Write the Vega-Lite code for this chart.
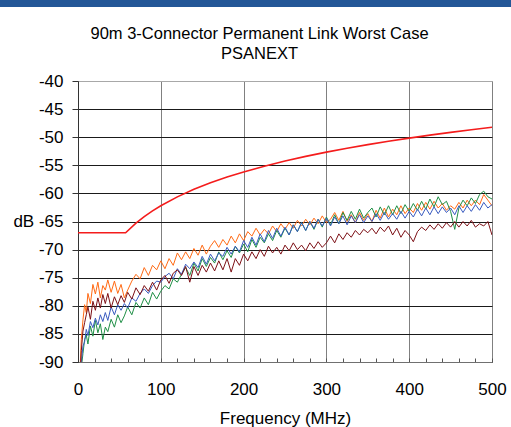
{
  "$schema": "https://vega.github.io/schema/vega-lite/v6.json",
  "padding": 0,
  "background": "white",
  "config": {"font": "Liberation Sans", "view": {"stroke": null}},
  "spacing": 18,
  "vconcat": [
    {"width": 511, "height": 7, "view": {"fill": "#235797", "stroke": null}, "data": {"values": []}, "mark": "point"},
    {
      "spacing": 11,
      "hconcat": [
        {"width": 1, "height": 1, "data": {"values": []}, "mark": "point"},
        {
          "width": 414,
          "height": 281,
          "view": {"stroke": "#a0a0a0"},
          "title": {"text": ["90m 3-Connector Permanent Link Worst Case", "PSANEXT"], "fontSize": 16.5, "fontWeight": "normal", "color": "black", "frame": "bounds", "anchor": "middle", "lineHeight": 20, "offset": 10},
          "layer": [
            {
              "data": {"values": [
                {"f":2,"O":-93,"G":-96,"B":-95,"M":-94},
                {"f":4,"O":-86,"G":-91,"B":-90,"M":-88},
                {"f":6,"O":-82.5,"G":-88.5,"B":-87.2,"M":-84.5},
                {"f":8,"O":-79.8,"G":-86,"B":-86.4,"M":-83},
                {"f":10,"O":-81.2,"G":-85.2,"B":-84.2,"M":-81.6},
                {"f":12,"O":-77.8,"G":-86.8,"B":-85.3,"M":-80.2},
                {"f":15,"O":-79.6,"G":-83.6,"B":-82.8,"M":-82.4},
                {"f":18,"O":-76.2,"G":-85.4,"B":-83.9,"M":-79.2},
                {"f":21,"O":-77.9,"G":-82.6,"B":-82.2,"M":-80.8},
                {"f":24,"O":-75.8,"G":-84.8,"B":-83.4,"M":-78.6},
                {"f":27,"O":-78.6,"G":-83.2,"B":-81.6,"M":-80.4},
                {"f":30,"O":-76.4,"G":-86,"B":-82.8,"M":-78},
                {"f":33,"O":-77.2,"G":-83.8,"B":-81.2,"M":-79.6},
                {"f":36,"O":-75.4,"G":-84.6,"B":-82.6,"M":-77.8},
                {"f":40,"O":-77.6,"G":-82.4,"B":-80.2,"M":-80.4},
                {"f":44,"O":-75.6,"G":-83.8,"B":-81.6,"M":-78.4},
                {"f":48,"O":-77.8,"G":-81.6,"B":-79.8,"M":-79.8},
                {"f":52,"O":-76.2,"G":-83,"B":-80.8,"M":-78.2},
                {"f":56,"O":-78.6,"G":-81.8,"B":-79.6,"M":-79.4},
                {"f":60,"O":-77.2,"G":-80.2,"B":-80.4,"M":-77.6},
                {"f":65,"O":-75.6,"G":-81.6,"B":-78.6,"M":-78.8},
                {"f":70,"O":-74.4,"G":-79.4,"B":-79.2,"M":-76.8},
                {"f":75,"O":-75.2,"G":-80.4,"B":-77.8,"M":-78},
                {"f":80,"O":-73.2,"G":-78.6,"B":-77,"M":-76.4},
                {"f":85,"O":-74.6,"G":-79.8,"B":-77.8,"M":-77.4},
                {"f":90,"O":-72.8,"G":-77.6,"B":-76.4,"M":-75.8},
                {"f":95,"O":-73.6,"G":-78.8,"B":-75.6,"M":-77.2},
                {"f":100,"O":-72,"G":-77.4,"B":-75.8,"M":-75.4},
                {"f":105,"O":-73.4,"G":-76.4,"B":-74.8,"M":-74.6},
                {"f":110,"O":-71.6,"G":-77,"B":-74.2,"M":-76},
                {"f":115,"O":-72.8,"G":-75.2,"B":-75.2,"M":-74.2},
                {"f":120,"O":-70.6,"G":-75.8,"B":-73.4,"M":-73.6},
                {"f":125,"O":-71.8,"G":-74.4,"B":-74.4,"M":-74.6},
                {"f":130,"O":-70.4,"G":-73.2,"B":-72.6,"M":-73},
                {"f":135,"O":-71.6,"G":-74.6,"B":-73.4,"M":-75.8},
                {"f":140,"O":-69.8,"G":-72.4,"B":-72.2,"M":-73},
                {"f":145,"O":-71,"G":-73.8,"B":-73.2,"M":-74.6},
                {"f":150,"O":-69.2,"G":-71.6,"B":-71.2,"M":-72.8},
                {"f":155,"O":-70.8,"G":-73,"B":-72.6,"M":-74},
                {"f":160,"O":-69.4,"G":-71.4,"B":-70.8,"M":-72.4},
                {"f":165,"O":-68.4,"G":-72.4,"B":-72,"M":-73.8},
                {"f":170,"O":-69.6,"G":-70.4,"B":-70.6,"M":-72},
                {"f":175,"O":-68.2,"G":-71.8,"B":-71.2,"M":-73.6},
                {"f":180,"O":-69.2,"G":-70.2,"B":-69.6,"M":-71.6},
                {"f":185,"O":-67.6,"G":-71.4,"B":-70.8,"M":-74},
                {"f":190,"O":-68.8,"G":-69.4,"B":-69.4,"M":-71.6},
                {"f":195,"O":-67.2,"G":-70.6,"B":-70.4,"M":-72.8},
                {"f":200,"O":-68.4,"G":-69,"B":-68.4,"M":-70.8},
                {"f":205,"O":-66.8,"G":-70.4,"B":-69.6,"M":-72},
                {"f":210,"O":-67.6,"G":-68.2,"B":-67.8,"M":-70.4},
                {"f":215,"O":-66.2,"G":-69.6,"B":-69.2,"M":-71.6},
                {"f":220,"O":-67.4,"G":-67.8,"B":-67.2,"M":-70},
                {"f":225,"O":-66.4,"G":-68.8,"B":-68.6,"M":-71.2},
                {"f":230,"O":-67.2,"G":-67.2,"B":-66.6,"M":-69.4},
                {"f":235,"O":-65.8,"G":-68.4,"B":-68,"M":-70.6},
                {"f":240,"O":-66.8,"G":-66.6,"B":-66.2,"M":-69.6},
                {"f":245,"O":-65.4,"G":-67.8,"B":-67.6,"M":-70.8},
                {"f":250,"O":-66.4,"G":-66.2,"B":-66,"M":-69.2},
                {"f":255,"O":-65.2,"G":-67.4,"B":-67.4,"M":-70.2},
                {"f":260,"O":-66.2,"G":-65.6,"B":-65.6,"M":-68.8},
                {"f":265,"O":-64.8,"G":-66.8,"B":-66.8,"M":-70},
                {"f":270,"O":-65.8,"G":-65.2,"B":-65.2,"M":-69.2},
                {"f":275,"O":-64.6,"G":-66.6,"B":-66.6,"M":-70.2},
                {"f":280,"O":-65.6,"G":-65,"B":-65,"M":-68.8},
                {"f":285,"O":-64.4,"G":-66.4,"B":-66.2,"M":-69.8},
                {"f":290,"O":-65.4,"G":-64.6,"B":-64.6,"M":-68.6},
                {"f":295,"O":-64,"G":-66,"B":-65.8,"M":-69.6},
                {"f":300,"O":-65.2,"G":-64.2,"B":-64.4,"M":-68.8},
                {"f":305,"O":-64.6,"G":-65.6,"B":-65.8,"M":-67.6},
                {"f":310,"O":-63.4,"G":-63.8,"B":-64.2,"M":-68.8},
                {"f":315,"O":-64.8,"G":-65.4,"B":-65.4,"M":-67.2},
                {"f":320,"O":-63.2,"G":-63.4,"B":-64,"M":-68.2},
                {"f":325,"O":-65,"G":-64.8,"B":-65.6,"M":-67},
                {"f":330,"O":-63.8,"G":-63.2,"B":-64,"M":-67.8},
                {"f":335,"O":-65.2,"G":-64.6,"B":-65.2,"M":-66.6},
                {"f":340,"O":-63.4,"G":-62.8,"B":-63.8,"M":-67.4},
                {"f":345,"O":-64.8,"G":-64.4,"B":-65.2,"M":-66.4},
                {"f":350,"O":-63.6,"G":-63.4,"B":-64,"M":-67},
                {"f":355,"O":-65,"G":-62.6,"B":-65,"M":-66.2},
                {"f":360,"O":-63,"G":-64.2,"B":-63.6,"M":-67.2},
                {"f":365,"O":-64.4,"G":-62.4,"B":-64.8,"M":-66},
                {"f":370,"O":-62.6,"G":-63.8,"B":-63.4,"M":-66.8},
                {"f":375,"O":-64.2,"G":-62.2,"B":-64.6,"M":-65.8},
                {"f":380,"O":-62.8,"G":-63.8,"B":-63.6,"M":-67.4},
                {"f":385,"O":-63.8,"G":-62.2,"B":-64.6,"M":-66.2},
                {"f":390,"O":-62.2,"G":-63.6,"B":-63.2,"M":-67.8},
                {"f":395,"O":-63.6,"G":-62,"B":-64.4,"M":-66.6},
                {"f":400,"O":-62.6,"G":-63.2,"B":-63.2,"M":-67.4},
                {"f":405,"O":-63.4,"G":-61.8,"B":-64.2,"M":-68.6},
                {"f":410,"O":-61.8,"G":-63,"B":-62.8,"M":-66.8},
                {"f":415,"O":-63,"G":-61.4,"B":-64,"M":-66},
                {"f":420,"O":-61.6,"G":-62.8,"B":-62.6,"M":-66.6},
                {"f":425,"O":-62.8,"G":-61,"B":-63.8,"M":-65.6},
                {"f":430,"O":-61.4,"G":-62.4,"B":-62.4,"M":-66.4},
                {"f":435,"O":-62.6,"G":-60.6,"B":-63.6,"M":-65.4},
                {"f":440,"O":-61.8,"G":-62,"B":-62.4,"M":-66.2},
                {"f":445,"O":-63,"G":-61.4,"B":-63.4,"M":-65.2},
                {"f":450,"O":-62.2,"G":-63.2,"B":-62.6,"M":-66},
                {"f":455,"O":-62.8,"G":-66.4,"B":-63.8,"M":-65},
                {"f":460,"O":-61.6,"G":-62.6,"B":-62.2,"M":-66},
                {"f":465,"O":-62.6,"G":-61.2,"B":-63.4,"M":-65},
                {"f":470,"O":-61.2,"G":-62.2,"B":-62.2,"M":-65.8},
                {"f":475,"O":-62.2,"G":-60.8,"B":-63.2,"M":-64.8},
                {"f":480,"O":-61.2,"G":-61.8,"B":-62,"M":-66},
                {"f":485,"O":-62,"G":-60.2,"B":-63,"M":-65.4},
                {"f":490,"O":-60.2,"G":-59.6,"B":-61.6,"M":-65.8},
                {"f":495,"O":-61.2,"G":-60.6,"B":-62.6,"M":-65},
                {"f":500,"O":-62.2,"G":-61,"B":-62,"M":-67.4}
              ]},
              "transform": [{"fold": ["O", "G", "B", "M"], "as": ["s", "v"]}],
              "mark": {"type": "line", "strokeWidth": 1, "clip": true},
              "encoding": {
                "x": {
                  "field": "f", "type": "quantitative",
                  "scale": {"domain": [0, 500], "nice": false},
                  "axis": {
                    "values": [0,20,40,60,80,100,120,140,160,180,200,220,240,260,280,300,320,340,360,380,400,420,440,460,480,500],
                    "tickCount": 100,
                    "labelExpr": "datum.value % 100 === 0 ? datum.value + '' : ''",
                    "labelOverlap": false,
                    "labelFlush": false,
                    "labelFontSize": 17,
                    "labelColor": "black",
                    "labelPadding": 23,
                    "tickSize": -4,
                    "tickColor": "#555555",
                    "domainColor": "#707070",
                    "gridColor": {"condition": {"test": "datum.value % 100 === 0", "value": "#808080"}, "value": "transparent"},
                    "title": "Frequency (MHz)",
                    "titleFontSize": 17,
                    "titleFontWeight": "normal",
                    "titleColor": "black",
                    "titlePadding": 13
                  }
                },
                "y": {
                  "field": "v", "type": "quantitative",
                  "scale": {"domain": [-90, -40], "nice": false, "zero": false},
                  "axis": {
                    "values": [-90,-85,-80,-75,-70,-65,-60,-55,-50,-45,-40],
                    "tickCount": 100,
                    "labelOverlap": false,
                    "labelExpr": "(datum.value === -65 ? 'dB ' : '') + datum.value",
                    "labelFontSize": 17,
                    "labelColor": "black",
                    "labelPadding": 9,
                    "tickSize": 6,
                    "tickColor": "#333333",
                    "domainColor": "#333333",
                    "gridColor": {"condition": {"test": "datum.value === -40", "value": "#a8a8a8"}, "value": "#1a1a1a"},
                    "title": null
                  }
                },
                "color": {
                  "field": "s", "type": "nominal",
                  "scale": {"domain": ["O", "G", "B", "M"], "range": ["#ff6a14", "#1f8f46", "#3a5bc0", "#7d1016"]},
                  "legend": null
                }
              }
            },
            {
              "data": {"values": [
                {"f":0,"v":-67},{"f":57.5,"v":-67},{"f":70,"v":-65.3},{"f":80,"v":-64.14},{"f":90,"v":-63.12},
                {"f":100,"v":-62.2},{"f":120,"v":-60.62},{"f":140,"v":-59.28},{"f":160,"v":-58.12},{"f":180,"v":-57.09},
                {"f":200,"v":-56.18},{"f":225,"v":-55.16},{"f":250,"v":-54.24},{"f":275,"v":-53.41},{"f":300,"v":-52.66},
                {"f":325,"v":-51.96},{"f":350,"v":-51.32},{"f":375,"v":-50.72},{"f":400,"v":-50.16},{"f":425,"v":-49.63},
                {"f":450,"v":-49.14},{"f":475,"v":-48.67},{"f":500,"v":-48.22}
              ]},
              "mark": {"type": "line", "color": "#f41c1c", "strokeWidth": 1.6, "clip": true},
              "encoding": {
                "x": {"field": "f", "type": "quantitative"},
                "y": {"field": "v", "type": "quantitative"}
              }
            }
          ]
        }
      ]
    }
  ]
}
